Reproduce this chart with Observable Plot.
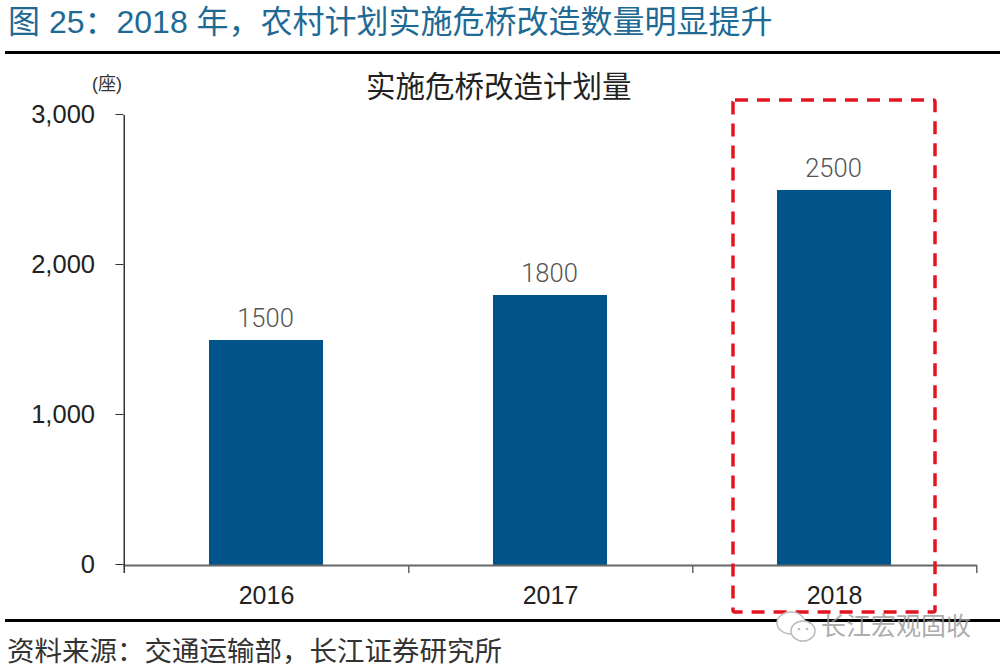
<!DOCTYPE html>
<html lang="zh">
<head>
<meta charset="utf-8">
<script src="https://cdn.jsdelivr.net/npm/d3@7"></script>
<script src="https://cdn.jsdelivr.net/npm/@observablehq/plot@0.6"></script>
<style>
  body { margin: 0; background: #fff; }
  #page { position: relative; width: 1000px; height: 669px; overflow: hidden; font-family: "Liberation Sans", "Noto Sans CJK SC", sans-serif; }
  #chart svg { position: absolute; left: 0; top: 0; }
  .txt { position: absolute; white-space: nowrap; line-height: 1; }
  .hr { position: absolute; left: 5px; right: 0; height: 3px; background: #000; }
  #heading { left: 8px; top: 6px; font-size: 32px; color: #1f6a94; }
  #chart-title { left: 366px; top: 72px; font-size: 29.5px; color: #222; }
  #unit { left: 92px; top: 75px; font-size: 18px; color: #333; }
  #source { left: 7px; top: 638px; font-size: 27.5px; color: #333; }
  #mark { left: 821px; top: 614px; font-size: 25px; color: #999; opacity: 0.8; }
  #icon { position: absolute; left: 776px; top: 610px; }
</style>
</head>
<body>
<div id="page">
  <div id="chart"></div>
  <div class="txt" id="heading">图 25：2018 年，农村计划实施危桥改造数量明显提升</div>
  <div class="hr" style="top:51px"></div>
  <div class="txt" id="chart-title">实施危桥改造计划量</div>
  <div class="txt" id="unit">(座)</div>
  <div class="hr" style="top:619px"></div>
  <div class="txt" id="source">资料来源：交通运输部，长江证券研究所</div>
  <svg id="icon" width="42" height="34" viewBox="0 0 42 34">
    <ellipse cx="15" cy="13" rx="14" ry="11" fill="#fff" stroke="#bbb" stroke-width="1.5"/>
    <ellipse cx="27" cy="21" rx="12" ry="10" fill="#fff" stroke="#bbb" stroke-width="1.5"/>
    <circle cx="23" cy="19" r="1.3" fill="#bbb"/>
    <circle cx="31" cy="19" r="1.3" fill="#bbb"/>
  </svg>
  <div class="txt" id="mark">长江宏观固收</div>
</div>
<script>
const years = ["2016", "2017", "2018"];
const planned = [1500, 1800, 2500];
const yTicks = [0, 1000, 2000, 3000];
const highlightYears = ["2018"];
const highlightRange = [-313, 3100];

const rows = years.map((year, i) => ({ year, value: planned[i] }));

const plot = Plot.plot({
  width: 1000,
  height: 669,
  marginLeft: 123.5,
  marginRight: 23,
  marginTop: 115,
  marginBottom: 104,
  style: { background: "transparent", overflow: "visible" },
  x: { domain: years, paddingInner: 0.6, paddingOuter: 0.3, align: 0.5, label: null },
  y: { domain: [0, 3000], label: null },
  marks: [
    Plot.barY(rows, { x: "year", y: "value", fill: "#00548a" }),
    Plot.text(rows, {
      x: "year", y: "value", text: d => String(d.value),
      dy: -22, dx: -1, fontSize: 25.5, fontFamily: "Roboto", fontWeight: 300, fill: "#555"
    }),
    // axis lines and band ticks
    Plot.ruleY([0], { stroke: "#666", strokeWidth: 2 }),
    Plot.ruleX(years, { x: d => d, dx: 142.25, y1: 0, y2: -53, stroke: "#666", strokeWidth: 1.5 }),
    Plot.ruleX(years.slice(0, 1), { x: d => d, dx: -142.25, y1: -53, y2: 3000, stroke: "#333", strokeWidth: 1.5 }),
    Plot.axisY({
      ticks: yTicks, tickFormat: d => d3.format(",")(d), tickSize: 8, tickPadding: 21, label: null,
      fontSize: 25.5, fontFamily: "Liberation Sans", stroke: "#333", fill: "#222", dy: -1
    }),
    Plot.axisX({
      tickSize: 0, tickPadding: 21, label: null,
      fontSize: 25, fontFamily: "Liberation Sans", fill: "#222"
    }),
    // dashed highlight around 2018
    Plot.barY(highlightYears, {
      x: d => d, y1: highlightRange[0], y2: highlightRange[1],
      insetLeft: -44, insetRight: -44, rx: 2,
      fill: "none", stroke: "#e3141f", strokeWidth: 3.5, strokeDasharray: "13 9"
    })
  ]
});
document.getElementById("chart").appendChild(plot);
</script>
</body>
</html>
